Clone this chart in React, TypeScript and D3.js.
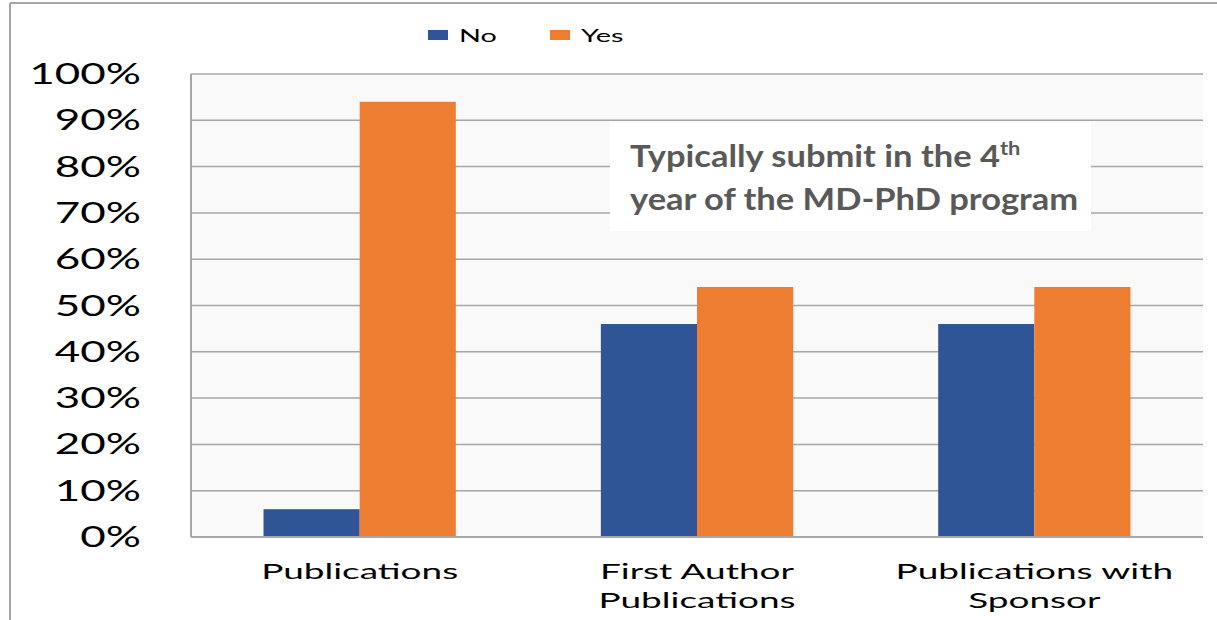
import React from "react";
import * as d3 from "d3";

const categories: string[][] = [["Publications"], ["First Author", "Publications"], ["Publications with", "Sponsor"]];
const seriesNames = ["No", "Yes"];
const noValues = [0.06, 0.46, 0.46];
const yesValues = [0.94, 0.54, 0.54];
const yTicks = [0, 0.1, 0.2, 0.3, 0.4, 0.5, 0.6, 0.7, 0.8, 0.9, 1.0];
const annotation = ["Typically submit in the 4", "th", "year of the MD-PhD program"];

const COLORS = ["#2f5597", "#ed7d31"];
const W = 1217, H = 620;
const left = 191, right = 1203, top = 74, bottom = 537;
const FONT = "Lato, 'Open Sans', sans-serif";

export default function App() {
  const keys = categories.map((c) => c.join(" "));
  const x0 = d3.scaleBand<string>().domain(keys).range([left, right]).paddingInner(0.43).paddingOuter(0.215);
  const x1 = d3.scaleBand<string>().domain(seriesNames).range([0, x0.bandwidth()]).padding(0);
  const y = d3.scaleLinear().domain([0, 1]).range([bottom, top]);
  const data = [noValues, yesValues];
  const fmt = d3.format(".0%");

  return (
    <svg width={W} height={H} style={{ position: "absolute", left: 0, top: 0, background: "#fff" }}>
      <line x1={10} y1={3} x2={W} y2={3} stroke="#a6a6a6" strokeWidth={2} />
      <line x1={10} y1={3} x2={10} y2={H} stroke="#a6a6a6" strokeWidth={2} />
      <rect x={left} y={top} width={right - left} height={bottom - top} fill="#f9f9f9" />
      {yTicks.map((t) => (
        <line key={t} x1={left} x2={right} y1={y(t)} y2={y(t)} stroke="#a6a6a6" strokeWidth={1.5} />
      ))}
      {keys.map((k, i) =>
        seriesNames.map((s, j) => (
          <rect key={k + s} x={(x0(k) as number) + (x1(s) as number)} y={y(data[j][i])}
            width={x1.bandwidth()} height={bottom - y(data[j][i])} fill={COLORS[j]} />
        ))
      )}
      <line x1={left} x2={left} y1={top} y2={bottom} stroke="#a6a6a6" strokeWidth={2} />
      <line x1={left} x2={right} y1={bottom} y2={bottom} stroke="#a6a6a6" strokeWidth={2} />
      {yTicks.map((t) => (
        <text key={t} transform={`translate(141,${y(t) + 10}) scale(1.57,1)`} textAnchor="end"
          fontFamily={FONT} fontSize={28} fill="#000">{fmt(t)}</text>
      ))}
      {categories.map((lines, i) => {
        const cx = (x0(keys[i]) as number) + x0.bandwidth() / 2;
        return lines.map((ln, li) => (
          <text key={ln + li} transform={`translate(${cx},${579 + li * 29}) scale(1.68,1)`} textAnchor="middle"
            fontFamily={FONT} fontSize={22} fill="#000">{ln}</text>
        ));
      })}
      {seriesNames.map((s, j) => {
        const lx = [428, 550][j];
        return (
          <g key={s}>
            <rect x={lx} y={30} width={20} height={10} fill={COLORS[j]} />
            <text transform={`translate(${lx + 31},42) scale(1.6,1)`} fontFamily={FONT} fontSize={18} fill="#000">{s}</text>
          </g>
        );
      })}
      <rect x={610} y={122} width={481} height={109} fill="#fff" />
      <g transform="translate(630,0) scale(1.15,1)">
        <text x={0} y={167} fontFamily={FONT} fontWeight="bold" fontSize={30} fill="#595959">
          {annotation[0]}<tspan fontSize={19} dy={-12}>{annotation[1]}</tspan>
        </text>
        <text x={0} y={210} fontFamily={FONT} fontWeight="bold" fontSize={30} fill="#595959">
          {annotation[2]}
        </text>
      </g>
    </svg>
  );
}
